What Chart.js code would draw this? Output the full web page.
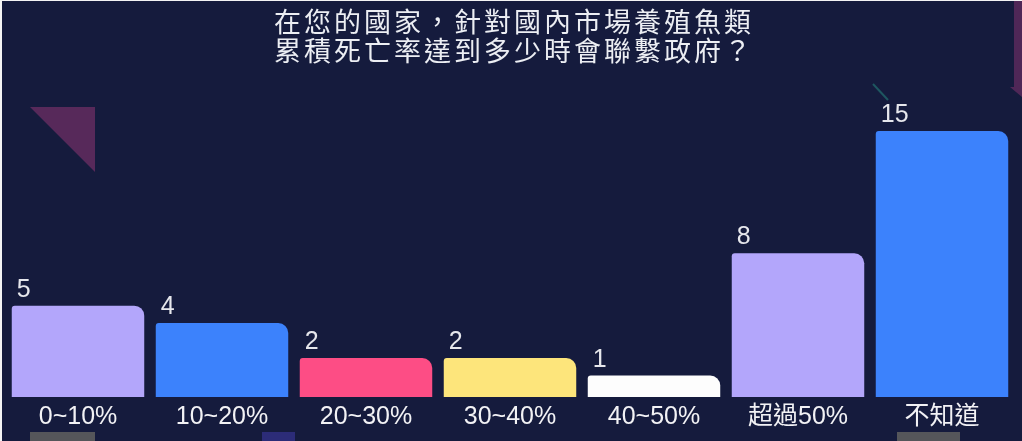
<!DOCTYPE html>
<html>
<head>
<meta charset="utf-8">
<script src="https://cdn.jsdelivr.net/npm/chart.js@4"></script>
<style>
  html, body { margin: 0; padding: 0; background: #ffffff; overflow: hidden; }
  #wrap {
    width: 1020px; height: 440px;
    border-top: 1px solid #f4f4f4; border-left: 2px solid #f4f4f4;
    background: #151b3d;
  }
  canvas { display: block; }
</style>
</head>
<body>
<div id="wrap"><canvas id="chart" width="1020" height="440"></canvas></div>
<script>
const titleLines = ['在您的國家，針對國內市場養殖魚類', '累積死亡率達到多少時會聯繫政府？'];
const categories = ['0~10%', '10~20%', '20~30%', '30~40%', '40~50%', '超過50%', '不知道'];
const counts = [5, 4, 2, 2, 1, 8, 15];
const barColors = ['#b3a6fb', '#3c82fc', '#fd4d85', '#fde57b', '#fdfdfd', '#b3a6fb', '#3c82fc'];

const BG = '#151b3d';
const LABEL_FONT = '"Liberation Sans", "Noto Sans CJK TC", sans-serif';

// background + the faint slide ornaments behind the bars
const backdrop = {
  id: 'backdrop',
  beforeDraw(chart) {
    const ctx = chart.ctx;
    ctx.save();
    ctx.fillStyle = BG;
    ctx.fillRect(0, 0, chart.width, chart.height);

    ctx.fillStyle = '#57295a';
    ctx.beginPath();
    ctx.moveTo(28, 106); ctx.lineTo(93, 106); ctx.lineTo(93, 171);
    ctx.closePath(); ctx.fill();

    ctx.fillStyle = '#4f2757';
    ctx.beginPath();
    ctx.moveTo(1012, 0); ctx.lineTo(1020, 0); ctx.lineTo(1020, 96);
    ctx.lineTo(1008, 86); ctx.lineTo(1012, 86);
    ctx.closePath(); ctx.fill();

    ctx.strokeStyle = '#1e5660';
    ctx.lineWidth = 2;
    ctx.beginPath();
    ctx.moveTo(871, 83); ctx.lineTo(886, 99);
    ctx.stroke();

    ctx.fillStyle = '#55565a';
    ctx.fillRect(28, 431, 65, 9);
    ctx.fillRect(895, 431, 63, 9);
    ctx.fillStyle = '#2c2c78';
    ctx.fillRect(260, 431, 33, 9);
    ctx.restore();
  }
};

// two-line heading, drawn with a little extra tracking
const heading = {
  id: 'heading',
  afterDraw(chart) {
    const ctx = chart.ctx;
    ctx.save();
    ctx.font = '27px "Noto Sans CJK TC", "Noto Sans CJK SC", sans-serif';
    ctx.fillStyle = '#eceef3';
    ctx.textAlign = 'center';
    ctx.textBaseline = 'middle';
    ctx.letterSpacing = '3px';
    titleLines.forEach((line, i) => {
      ctx.fillText(line, 512, 21 + i * 29);
    });
    ctx.restore();
  }
};

// value written at the upper-left corner of each bar
const valueTags = {
  id: 'valueTags',
  afterDatasetsDraw(chart) {
    const ctx = chart.ctx;
    const meta = chart.getDatasetMeta(0);
    ctx.save();
    ctx.font = '25px ' + LABEL_FONT;
    ctx.fillStyle = '#e6e7ec';
    ctx.textAlign = 'left';
    ctx.textBaseline = 'alphabetic';
    meta.data.forEach((bar, i) => {
      ctx.fillText(String(counts[i]), bar.x - bar.width / 2 + 5, bar.y - 9);
    });
    ctx.restore();
  }
};

const ctx = document.getElementById('chart').getContext('2d');
new Chart(ctx, {
  type: 'bar',
  data: {
    labels: categories,
    datasets: [{
      data: counts,
      backgroundColor: barColors,
      base: -0.23,
      barPercentage: 0.92,
      categoryPercentage: 1,
      borderRadius: { topLeft: 3, topRight: 10, bottomLeft: 0, bottomRight: 0 },
      borderSkipped: 'start'
    }]
  },
  options: {
    responsive: false,
    animation: false,
    layout: { padding: { left: 4, right: 8, top: 130, bottom: 12 } },
    plugins: {
      legend: { display: false },
      title: { display: false },
      tooltip: { enabled: false }
    },
    scales: {
      x: {
        grid: { display: false },
        border: { display: false },
        ticks: {
          color: '#f2f2f5',
          padding: -3,
          maxRotation: 0,
          font: { family: LABEL_FONT, size: 25 }
        }
      },
      y: {
        display: false,
        min: -0.23,
        max: 15
      }
    }
  },
  plugins: [backdrop, heading, valueTags]
});
</script>
</body>
</html>
